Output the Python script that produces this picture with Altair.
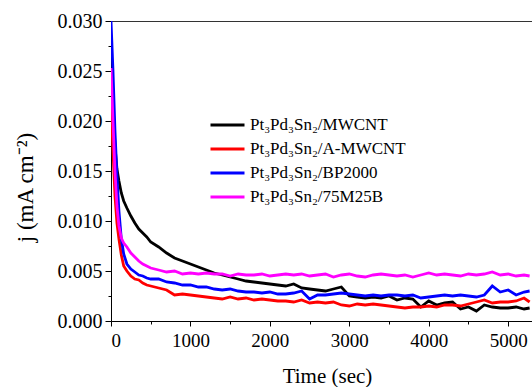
import altair as alt
import pandas as pd

time_s = [0, 25, 50, 75, 100, 130, 160, 200, 250, 300, 350, 400, 450, 500,
          600, 700, 800, 900, 1000, 1100, 1200, 1300, 1400, 1500, 1600, 1700, 1800, 1900, 2000,
          2100, 2200, 2300, 2400, 2500, 2600, 2700, 2800, 2900, 3000,
          3100, 3200, 3300, 3400, 3500, 3600, 3700, 3800, 3900, 4000,
          4100, 4200, 4300, 4400, 4500, 4600, 4700, 4800, 4900, 5000,
          5100, 5200, 5270]

mwcnt = [0.028, 0.022, 0.0175, 0.0152, 0.0140, 0.0128, 0.0120, 0.0113, 0.0105, 0.0098, 0.0092, 0.0088, 0.0084, 0.0079,
         0.0074, 0.0068, 0.0063, 0.0060, 0.0057,
         0.0054, 0.0051, 0.0048, 0.0046, 0.0044, 0.0042, 0.0040, 0.0039, 0.0038, 0.0037,
         0.0036, 0.0035, 0.0037, 0.0033, 0.0032, 0.0031, 0.0030, 0.0032, 0.0034, 0.0025,
         0.0024, 0.0023, 0.0024, 0.0023, 0.0025, 0.0021, 0.0023, 0.0022, 0.0014, 0.0020,
         0.0016, 0.0018, 0.0019, 0.0012, 0.0014, 0.0010, 0.0016, 0.0014, 0.0013, 0.0013,
         0.0014, 0.0012, 0.0013]

a_mwcnt = [0.022, 0.017, 0.0125, 0.0098, 0.0082, 0.0066, 0.0055, 0.0050, 0.0045, 0.0042, 0.0041, 0.0038, 0.0036, 0.0035,
           0.0033, 0.0031, 0.0026, 0.0027, 0.0026,
           0.0025, 0.0024, 0.0023, 0.0022, 0.0024, 0.0022, 0.0023, 0.0021, 0.0022, 0.0021,
           0.0020, 0.0020, 0.0019, 0.0021, 0.0018, 0.0019, 0.0018, 0.0019, 0.0016, 0.0015,
           0.0017, 0.0016, 0.0017, 0.0016, 0.0015, 0.0014, 0.0013, 0.0014, 0.0014, 0.0015,
           0.0014, 0.0016, 0.0016, 0.0015, 0.0017, 0.0019, 0.0021, 0.0018, 0.0019, 0.0019,
           0.0020, 0.0023, 0.0019]

bp2000 = [0.030, 0.025, 0.019, 0.0145, 0.0110, 0.0082, 0.0067, 0.0057, 0.0052, 0.0049, 0.0046, 0.0045, 0.0043, 0.0042,
          0.0042, 0.0039, 0.0038, 0.0036, 0.0036,
          0.0034, 0.0034, 0.0032, 0.0031, 0.0032, 0.0030, 0.0029, 0.0029, 0.0028, 0.0029,
          0.0027, 0.0027, 0.0028, 0.0030, 0.0022, 0.0026, 0.0026, 0.0027, 0.0028, 0.0027,
          0.0026, 0.0025, 0.0026, 0.0025, 0.0026, 0.0026, 0.0025, 0.0026, 0.0023, 0.0024,
          0.0025, 0.0026, 0.0025, 0.0026, 0.0025, 0.0024, 0.0026, 0.0035, 0.0029, 0.0031,
          0.0026, 0.0029, 0.0030]

m75_b25 = [0.0253, 0.020, 0.0150, 0.0115, 0.0095, 0.0083, 0.0078, 0.0074, 0.0068, 0.0064, 0.0060, 0.0057, 0.0055, 0.0053,
           0.0051, 0.0049, 0.0050, 0.0047, 0.0048,
           0.0047, 0.0048, 0.0047, 0.0047, 0.0045, 0.0047, 0.0046, 0.0046, 0.0047, 0.0045,
           0.0046, 0.0047, 0.0046, 0.0047, 0.0045, 0.0046, 0.0047, 0.0044, 0.0046, 0.0047,
           0.0045, 0.0044, 0.0046, 0.0047, 0.0046, 0.0045, 0.0046, 0.0044, 0.0046, 0.0048,
           0.0046, 0.0047, 0.0046, 0.0045, 0.0047, 0.0046, 0.0047, 0.0049, 0.0046, 0.0047,
           0.0045, 0.0046, 0.0045]

series = ["Pt₃Pd₃Sn₂/MWCNT", "Pt₃Pd₃Sn₂/A-MWCNT", "Pt₃Pd₃Sn₂/BP2000", "Pt₃Pd₃Sn₂/75M25B"]
colors = ["#000000", "#ff0000", "#0000ff", "#ff00ff"]

x_major_ticks = [0, 1000, 2000, 3000, 4000, 5000]
x_minor_ticks = [500, 1500, 2500, 3500, 4500]
y_major_ticks = [0.0, 0.005, 0.01, 0.015, 0.02, 0.025, 0.03]
y_minor_ticks = [0.0025, 0.0075, 0.0125, 0.0175, 0.0225, 0.0275]

rows = []
for idx, (name, vals) in enumerate(zip(series, [mwcnt, a_mwcnt, bp2000, m75_b25])):
    for t, v in zip(time_s, vals):
        rows.append({"t": t, "j": v, "s": name, "k": idx})
df = pd.DataFrame(rows)

font = "Liberation Serif"

x_scale = alt.Scale(domain=[0, 5300], nice=False, zero=False)
y_scale = alt.Scale(domain=[0, 0.03], nice=False)

lines = alt.Chart(df).mark_line(strokeWidth=2.8, clip=True).encode(
    x=alt.X("t:Q", scale=x_scale,
            axis=alt.Axis(orient="bottom", values=x_major_ticks, grid=False, format="d",
                          tickSize=5, labelPadding=5,
                          labelFont=font, labelFontSize=19, labelColor="black",
                          tickColor="black", domainColor="black",
                          title="Time (sec)", titleFont=font, titleFontSize=21,
                          titleFontWeight="normal", titleColor="black",
                          titleX=216, titleY=61, titleBaseline="alphabetic")),
    y=alt.Y("j:Q", scale=y_scale,
            axis=alt.Axis(orient="left", values=y_major_ticks, grid=False, format=".3f",
                          tickSize=6, labelPadding=3,
                          labelFont=font, labelFontSize=20, labelColor="black",
                          tickColor="black", domainColor="black",
                          title="j (mA cm⁻²)", titleFont=font, titleFontSize=23,
                          titleFontWeight="normal", titleColor="black",
                          titleX=-79, titleY=166, titleAlign="center", titleAngle=270,
                          titleBaseline="alphabetic")),
    color=alt.Color("s:N", scale=alt.Scale(domain=series, range=colors),
                    legend=alt.Legend(orient="none", legendX=98, legendY=92, title=None,
                                      symbolType="stroke", symbolStrokeWidth=3, symbolSize=1156,
                                      labelFont=font, labelFontSize=17, labelColor="black",
                                      labelOffset=4, clipHeight=24, rowPadding=0)),
    order=alt.Order("k:Q"),
)

minor = alt.Chart(df).mark_point(opacity=0).encode(
    x=alt.X("t:Q", scale=x_scale,
            axis=alt.Axis(orient="bottom", values=x_minor_ticks, grid=False, labels=False,
                          domain=False, tickSize=3, tickColor="black", title=None)),
    y=alt.Y("j:Q", scale=y_scale,
            axis=alt.Axis(orient="left", values=y_minor_ticks, grid=False, labels=False,
                          domain=False, tickSize=3, tickColor="black", title=None)),
)

top = alt.Chart(df).mark_point(opacity=0).encode(
    x=alt.X("t:Q", scale=x_scale,
            axis=alt.Axis(orient="top", ticks=False, labels=False, title=None,
                          domainColor="#333333", grid=False)),
)

chart = alt.layer(lines, minor, top).resolve_axis(x="independent", y="independent").properties(
    width=421, height=300,
    autosize=alt.AutoSizeParams(type="none"),
    padding={"left": 111, "top": 21, "right": 0, "bottom": 66},
).configure(background="white", font=font).configure_view(stroke=None)

chart.save("out.html", embed_options={"renderer": "svg", "actions": False})
